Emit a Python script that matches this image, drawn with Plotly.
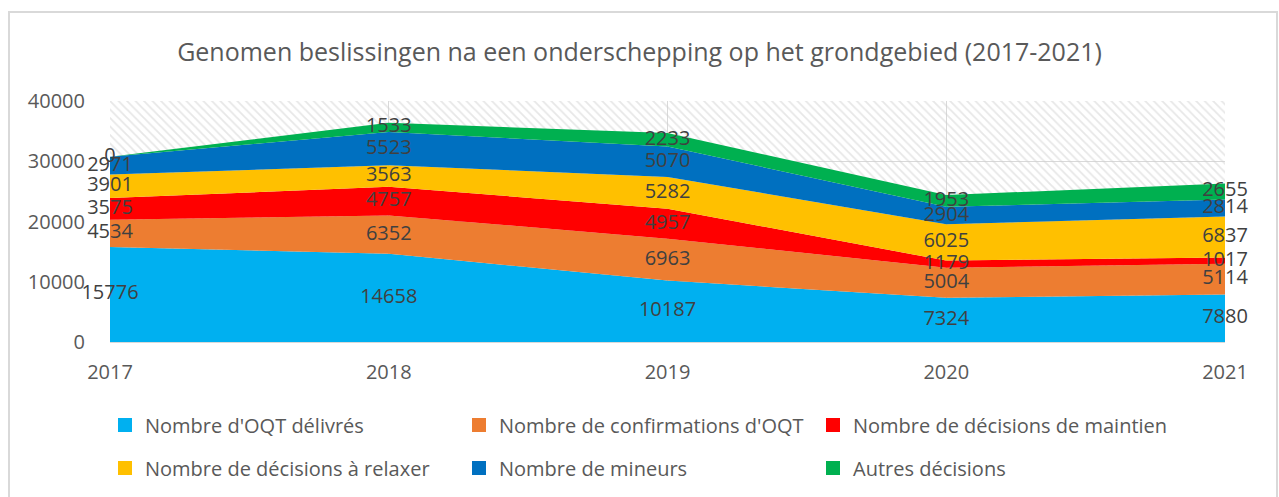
import plotly.graph_objects as go

years = [2017, 2018, 2019, 2020, 2021]
series_names = [
    "Nombre d'OQT délivrés",
    "Nombre de confirmations d'OQT",
    "Nombre de décisions de maintien",
    "Nombre de décisions à relaxer",
    "Nombre de mineurs",
    "Autres décisions",
]
oqt = [15776, 14658, 10187, 7324, 7880]
confirmations = [4534, 6352, 6963, 5004, 5114]
maintien = [3575, 4757, 4957, 1179, 1017]
relaxer = [3901, 3563, 5282, 6025, 6837]
mineurs = [2971, 5523, 5070, 2904, 2814]
autres = [0, 1533, 2233, 1953, 2655]
y_ticks = [0, 10000, 20000, 30000, 40000]
title_text = "Genomen beslissingen na een onderschepping op het grondgebied (2017-2021)"

colors = ["#00B0F0", "#ED7D31", "#FF0000", "#FFC000", "#0070C0", "#00B050"]
all_series = [oqt, confirmations, maintien, relaxer, mineurs, autres]

FONT = "Open Sans"
TXT = "#595959"
GRID = "#d9d9d9"
W, H = 1279, 497
ML, MR, MT, MB = 110, 54, 101, 155

fig = go.Figure()

# hatched plot-area background
ymax = y_ticks[-1]
fig.add_trace(go.Scatter(
    x=[years[0], years[-1], years[-1], years[0], years[0]],
    y=[0, 0, ymax, ymax, 0],
    mode="lines", fill="toself", line=dict(width=0),
    fillcolor="rgba(0,0,0,0)",
    fillpattern=dict(shape="\\", fgcolor="#cfcfcf", bgcolor="rgba(0,0,0,0)", size=6, solidity=0.3),
    hoverinfo="skip", showlegend=False,
))

for name, vals, col in zip(series_names, all_series, colors):
    fig.add_trace(go.Scatter(
        x=years, y=vals, name=name, stackgroup="one", mode="lines",
        line=dict(width=0, color=col), fillcolor=col, showlegend=False,
    ))

# legend proxies (square markers), two rows as two legends
for i, (name, col) in enumerate(zip(series_names, colors)):
    fig.add_trace(go.Scatter(
        x=[None], y=[None], name=name, mode="markers",
        marker=dict(symbol="square", size=14, color=col), showlegend=True,
        legend="legend" if i < 3 else "legend2",
    ))

# data labels at band centers
cum = [0] * len(years)
for vals in all_series:
    mids = [c + v / 2 for c, v in zip(cum, vals)]
    fig.add_trace(go.Scatter(
        x=years, y=mids, mode="text", text=[str(v) for v in vals],
        textposition="middle center",
        textfont=dict(family=FONT, size=20, color="#404040"),
        hoverinfo="skip", showlegend=False, cliponaxis=False,
    ))
    cum = [c + v for c, v in zip(cum, vals)]

pw = W - ML - MR
ph = H - MT - MB


def px_to_paper_x(px):
    return (px - ML) / pw


def px_to_paper_y(py):
    return (H - MB - py) / ph


leg_common = dict(orientation="h", xref="container", yref="container",
                  x=105 / W, xanchor="left", yanchor="middle",
                  entrywidth=309, entrywidthmode="pixels",
                  font=dict(family=FONT, size=20, color=TXT), itemwidth=30,
                  traceorder="normal", bgcolor="rgba(0,0,0,0)")

fig.update_layout(
    width=W, height=H,
    margin=dict(l=ML, r=MR, t=MT, b=MB, autoexpand=False),
    paper_bgcolor="white", plot_bgcolor="white",
    font=dict(family=FONT, color=TXT, size=20),
    title=dict(text=title_text, x=0.5, xanchor="center", y=1 - 52 / H, yanchor="middle",
               font=dict(family=FONT, size=25, color=TXT)),
    xaxis=dict(range=[years[0], years[-1]], tickvals=years, ticktext=[str(y) for y in years],
               showgrid=True, gridcolor=GRID, gridwidth=1, zeroline=False,
               showline=True, linecolor=GRID, linewidth=1, ticks="", automargin=False,
               tickfont=dict(size=20, color=TXT), ticklabelstandoff=12),
    yaxis=dict(range=[0, ymax], tickvals=y_ticks, ticktext=[str(v) for v in y_ticks],
               showgrid=True, gridcolor=GRID, gridwidth=1, automargin=False,
               zeroline=False, showline=False, ticks="",
               tickfont=dict(size=20, color=TXT), ticklabelstandoff=24),
    legend=dict(leg_common, y=1 - 425 / H),
    legend2=dict(leg_common, y=1 - 468 / H),
    showlegend=True,
    shapes=[dict(type="rect", xref="paper", yref="paper",
                 x0=px_to_paper_x(9), x1=px_to_paper_x(1277),
                 y0=px_to_paper_y(520), y1=px_to_paper_y(12),
                 line=dict(color="#d9d9d9", width=2), fillcolor="rgba(0,0,0,0)", layer="below")],
)

fig.write_html("out.html", config={"displayModeBar": False},
               post_script="document.body.style.margin='0';")
